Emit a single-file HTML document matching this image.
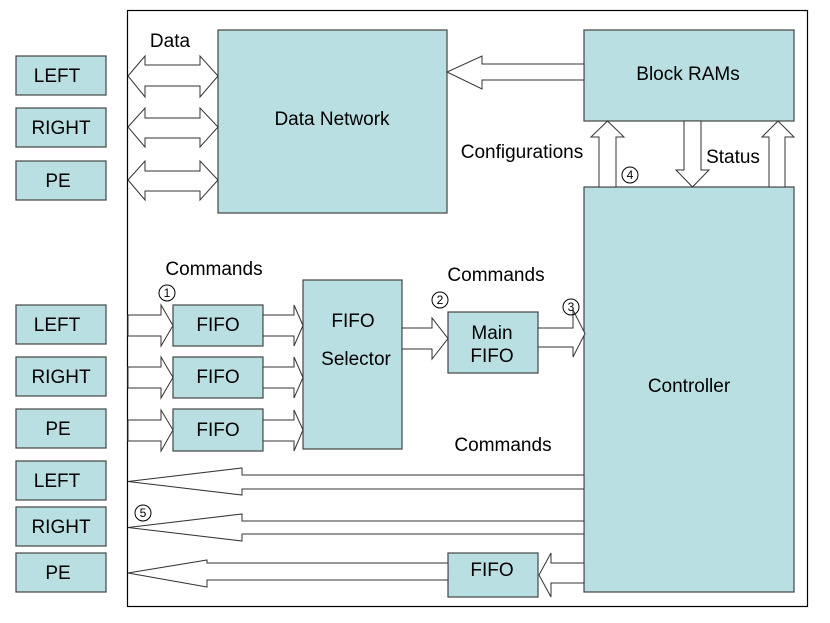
<!DOCTYPE html>
<html><head><meta charset="utf-8"><style>
html,body{margin:0;padding:0;background:#fff;}
svg{display:block;}
text{font-family:"Liberation Sans",Arial,sans-serif;fill:#000;}
</style></head><body>
<svg width="830" height="623" viewBox="0 0 830 623" xmlns="http://www.w3.org/2000/svg">
<g stroke="#333" stroke-width="1.2" fill="#fff">
<rect x="127.5" y="10.5" width="680" height="596" stroke="#000"/>
</g>
<g fill="#badfe2" stroke="#444" stroke-width="1.2">
<rect x="16" y="56" width="90" height="39"/>
<rect x="16" y="108" width="90" height="39"/>
<rect x="16" y="161" width="90" height="39"/>
<rect x="16" y="305" width="90" height="39"/>
<rect x="16" y="357" width="90" height="39"/>
<rect x="16" y="409" width="90" height="39"/>
<rect x="16" y="461" width="90" height="39"/>
<rect x="16" y="507" width="90" height="39"/>
<rect x="16" y="553" width="90" height="39"/>
<rect x="218" y="30" width="229" height="183"/>
<rect x="584" y="30" width="210" height="91"/>
<rect x="584" y="187" width="210" height="405"/>
<rect x="173" y="305" width="90" height="41"/>
<rect x="173" y="357" width="90" height="41"/>
<rect x="173" y="409" width="90" height="42"/>
<rect x="303" y="280" width="99" height="169"/>
<rect x="448" y="312" width="90" height="61"/>
<rect x="448" y="553" width="90" height="44"/>
</g>
<g fill="#fff" stroke="#333" stroke-width="1">
<polygon points="128,76 145,56 145,65 200,65 200,56 218,76 200,97 200,86 145,86 145,97"/>
<polygon points="128,127 145,108 145,118 200,118 200,108 218,127 200,147 200,138 145,138 145,147"/>
<polygon points="128,180 145,161 145,171 200,171 200,161 218,180 200,200 200,191 145,191 145,200"/>
<polygon points="584,64 482,64 482,56 447,72 482,89 482,80 584,80"/>
<polygon points="599,187 599,137 591,137 607.5,121 624,137 616,137 616,187"/>
<polygon points="769,187 769,137 762,137 778,121 794,137 785,137 785,187"/>
<polygon points="684,121 684,170 676,170 692.5,187 709,170 701,170 701,121"/>
<polygon points="128,315 161,315 161,305 173,325.5 161,346 161,336 128,336"/>
<polygon points="128,367 161,367 161,357 173,377.5 161,398 161,388 128,388"/>
<polygon points="128,420 161,420 161,410 173,430 161,451 161,441 128,441"/>
<polygon points="263,315 294,315 294,305 303,325.5 294,346 294,336 263,336"/>
<polygon points="263,367 294,367 294,357 303,377.5 294,398 294,388 263,388"/>
<polygon points="263,420 294,420 294,410 303,430 294,451 294,441 263,441"/>
<polygon points="402,328 432,328 432,318 448,338.5 432,359 432,349 402,349"/>
<polygon points="538,328 573,328 573,310 585,333.5 573,357 573,347 538,347"/>
<polygon points="584,475 242,475 242,468 128,481.5 242,495 242,489 584,489"/>
<polygon points="584,521 242,521 242,514 128,527.5 242,541 242,534 584,534"/>
<polygon points="448,563 207,563 207,560 128,573 207,587 207,580 448,580"/>
<polygon points="584,563 551,563 551,553 539,575 551,597 551,583 584,583"/>
</g>
<g fill="none" stroke="#000" stroke-width="1">
<circle cx="167" cy="293" r="8"/>
<circle cx="440" cy="300" r="8"/>
<circle cx="571" cy="307" r="8"/>
<circle cx="143" cy="513" r="8"/>
<circle cx="630" cy="175" r="8"/>
</g>
<g font-size="12" text-anchor="middle">
<text x="167" y="297">1</text><text x="440" y="304">2</text><text x="571" y="311">3</text><text x="143" y="517">5</text><text x="630" y="179">4</text>
</g>
<g font-size="19" text-anchor="middle">
<text x="57" y="82">LEFT</text><text x="61" y="134">RIGHT</text><text x="58" y="187">PE</text>
<text x="57" y="331">LEFT</text><text x="61" y="383">RIGHT</text><text x="58" y="435">PE</text>
<text x="57" y="487">LEFT</text><text x="61" y="533">RIGHT</text><text x="58" y="579">PE</text>
<text x="170" y="47">Data</text>
<text x="332" y="125">Data Network</text>
<text x="688" y="80">Block RAMs</text>
<text x="522" y="158">Configurations</text>
<text x="733" y="163">Status</text>
<text x="214" y="275">Commands</text>
<text x="496" y="281">Commands</text>
<text x="503" y="451">Commands</text>
<text x="218" y="331">FIFO</text><text x="218" y="383">FIFO</text><text x="218" y="436">FIFO</text>
<text x="353" y="327">FIFO</text><text x="356" y="365">Selector</text>
<text x="492" y="339">Main</text><text x="492" y="362">FIFO</text>
<text x="492" y="576">FIFO</text>
<text x="689" y="392">Controller</text>
</g>
</svg>
</body></html>
